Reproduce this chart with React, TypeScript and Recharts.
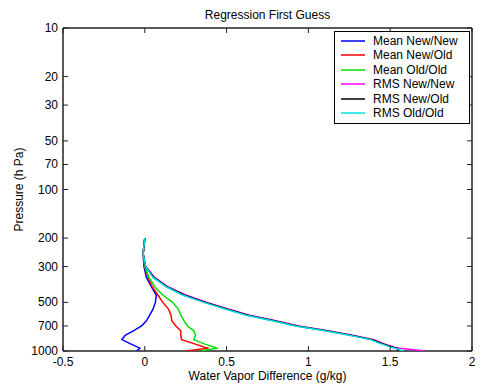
import React from 'react';
import { ScatterChart, Scatter, XAxis, YAxis, Legend } from 'recharts';

const FONT = '"Liberation Sans", Arial, Helvetica, sans-serif';

// Pressure levels (hPa) shared by every profile
const pressureLevels = [200, 250, 300, 350, 400, 450, 500, 550, 600, 650, 700, 750, 800, 850, 900, 950, 960, 1000];

// Water vapour differences (g/kg) read at each pressure level
const meanNewNew = [0, -0.01, -0.005, 0.01, 0.04, 0.07, 0.065, 0.05, 0.03, 0.01, -0.02, -0.07, -0.12, -0.14, -0.09, -0.04, -0.03, -0.05];
const meanNewOld = [0, -0.01, 0, 0.02, 0.045, 0.08, 0.11, 0.145, 0.16, 0.165, 0.19, 0.22, 0.22, 0.225, 0.3, 0.37, 0.39, 0.25];
const meanOldOld = [0, -0.01, 0, 0.025, 0.06, 0.11, 0.17, 0.205, 0.22, 0.24, 0.26, 0.3, 0.31, 0.3, 0.36, 0.43, 0.44, 0.34];
const rmsNewNew = [0, -0.01, 0.005, 0.06, 0.14, 0.25, 0.38, 0.51, 0.64, 0.8, 0.94, 1.12, 1.27, 1.4, 1.46, 1.53, 1.56, 1.71];
const rmsNewOld = [0, -0.01, 0.005, 0.055, 0.135, 0.24, 0.37, 0.5, 0.63, 0.79, 0.93, 1.11, 1.26, 1.39, 1.45, 1.52, 1.54, 1.55];
const rmsOldOld = [0, -0.01, 0.005, 0.05, 0.13, 0.23, 0.36, 0.49, 0.62, 0.78, 0.92, 1.1, 1.25, 1.38, 1.44, 1.51, 1.53, 1.58];

const seriesNames = ['Mean New/New', 'Mean New/Old', 'Mean Old/Old', 'RMS New/New', 'RMS New/Old', 'RMS Old/Old'];
const seriesColors = ['#0000ff', '#ff0000', '#00e000', '#ff00ff', '#000000', '#00e0e0'];
const seriesValues = [meanNewNew, meanNewOld, meanOldOld, rmsNewNew, rmsNewOld, rmsOldOld];

const xTicks = [-0.5, 0, 0.5, 1, 1.5, 2];
const yTicks = [10, 20, 30, 50, 70, 100, 200, 300, 500, 700, 1000];

const titleText = 'Regression First Guess';
const xLabelText = 'Water Vapor Difference (g/kg)';
const yLabelText = 'Pressure (h Pa)';

const toPoints = (vals: number[]) => vals.map((x, i) => ({ x, p: pressureLevels[i] }));

const AXIS_COLOR = '#222';
const TICK_LEN = 5;

const LeftTick = (props: any) => {
  const { x, y, payload } = props;
  return (
    <g>
      <text x={x} y={y} dy={4} textAnchor="end" fontSize={12} fontFamily={FONT} fill="#000">
        {payload.value}
      </text>
      <line x1={x + 5} x2={x + 5 + TICK_LEN} y1={y} y2={y} stroke={AXIS_COLOR} strokeWidth={1} />
    </g>
  );
};

const BottomTick = (props: any) => {
  const { x, y, payload } = props;
  return (
    <g>
      <text x={x} y={y} dy={10} textAnchor="middle" fontSize={12} fontFamily={FONT} fill="#000">
        {payload.value}
      </text>
      <line x1={x} x2={x} y1={y - 5} y2={y - 5 - TICK_LEN} stroke={AXIS_COLOR} strokeWidth={1} />
    </g>
  );
};

const RightTick = (props: any) => {
  const { x, y } = props;
  return <line x1={x - 5} x2={x - 5 - TICK_LEN} y1={y} y2={y} stroke={AXIS_COLOR} strokeWidth={1} />;
};

const TopTick = (props: any) => {
  const { x, y } = props;
  return <line x1={x} x2={x} y1={y + 5} y2={y + 5 + TICK_LEN} stroke={AXIS_COLOR} strokeWidth={1} />;
};

const renderLegend = () => (
  <div
    style={{
      position: 'relative',
      width: 136,
      height: 93,
      boxSizing: 'border-box',
      border: '1px solid #000',
      background: '#fff',
      fontFamily: FONT,
      fontSize: 12,
      color: '#000',
    }}
  >
    {seriesNames.map((name, i) => (
      <div
        key={name}
        style={{
          position: 'absolute',
          left: 0,
          top: 1.5 + i * 14.5,
          height: 14.5,
          display: 'flex',
          alignItems: 'center',
        }}
      >
        <svg width={38} height={14} style={{ display: 'block' }}>
          <line x1={6} x2={30} y1={7} y2={7} stroke={seriesColors[i]} strokeWidth={1.5} />
        </svg>
        <span style={{ lineHeight: '14.5px', whiteSpace: 'nowrap' }}>{name}</span>
      </div>
    ))}
  </div>
);

const NoShape = () => <g />;

export default function App() {
  return (
    <div style={{ position: 'absolute', left: 0, top: 0, width: 481, height: 385, background: '#fff' }}>
      <ScatterChart width={481} height={385} margin={{ top: 27, right: 8, bottom: 0, left: 0 }}>
        <XAxis
          xAxisId="x"
          type="number"
          dataKey="x"
          domain={[-0.5, 2]}
          ticks={xTicks}
          allowDataOverflow
          height={34}
          tickSize={5}
          tickMargin={0}
          tickLine={false}
          axisLine={{ stroke: AXIS_COLOR, strokeWidth: 1.5 }}
          tick={(p: any) => <BottomTick {...p} />}
          interval={0}
          label={{
            content: (lp: any) => {
              const vb = lp.viewBox || { x: 63, y: 351, width: 409, height: 34 };
              return (
                <text x={vb.x + vb.width / 2} y={vb.y + 29} textAnchor="middle" fontSize={12} fontFamily={FONT} fill="#000">
                  {xLabelText}
                </text>
              );
            },
          }}
        />
        <XAxis
          xAxisId="t"
          orientation="top"
          type="number"
          dataKey="x"
          domain={[-0.5, 2]}
          ticks={xTicks}
          allowDataOverflow
          height={1}
          tickSize={5}
          tickMargin={0}
          tickLine={false}
          axisLine={{ stroke: AXIS_COLOR, strokeWidth: 1.5 }}
          tick={(p: any) => <TopTick {...p} />}
          interval={0}
          label={{
            content: (lp: any) => {
              const vb = lp.viewBox || { x: 63, y: 27, width: 409, height: 1 };
              return (
                <text x={vb.x + vb.width / 2} y={vb.y + vb.height - 9} textAnchor="middle" fontSize={12} fontFamily={FONT} fill="#000">
                  {titleText}
                </text>
              );
            },
          }}
        />
        <YAxis
          yAxisId="p"
          type="number"
          dataKey="p"
          scale="log"
          domain={[10, 1000]}
          ticks={yTicks}
          reversed
          allowDataOverflow
          width={63}
          tickSize={5}
          tickMargin={0}
          tickLine={false}
          axisLine={{ stroke: AXIS_COLOR, strokeWidth: 1.5 }}
          tick={(p: any) => <LeftTick {...p} />}
          interval={0}
          label={{
            content: (lp: any) => {
              const vb = lp.viewBox || { x: 0, y: 28, width: 63, height: 323 };
              const cx = vb.x + 19;
              const cy = vb.y + vb.height / 2;
              return (
                <text
                  x={cx}
                  y={cy + 4}
                  textAnchor="middle"
                  fontSize={12}
                  fontFamily={FONT}
                  fill="#000"
                  transform={`rotate(-90, ${cx}, ${cy})`}
                >
                  {yLabelText}
                </text>
              );
            },
          }}
        />
        <YAxis
          yAxisId="r"
          orientation="right"
          type="number"
          dataKey="p"
          scale="log"
          domain={[10, 1000]}
          ticks={yTicks}
          reversed
          allowDataOverflow
          width={1}
          tickSize={5}
          tickMargin={0}
          tickLine={false}
          axisLine={{ stroke: AXIS_COLOR, strokeWidth: 1.5 }}
          tick={(p: any) => <RightTick {...p} />}
          interval={0}
        />
        <Legend
          layout="vertical"
          align="center"
          verticalAlign="middle"
          content={renderLegend}
          wrapperStyle={{ left: 334, top: 31, width: 136, height: 93 }}
        />
        {seriesValues.map((vals, i) => (
          <Scatter
            key={seriesNames[i]}
            name={seriesNames[i]}
            xAxisId={i < 3 ? 'x' : 't'}
            yAxisId={i < 3 ? 'p' : 'r'}
            data={toPoints(vals)}
            fill={seriesColors[i]}
            line={{ stroke: seriesColors[i], strokeWidth: 1.5 }}
            lineType="joint"
            shape={NoShape}
            isAnimationActive={false}
          />
        ))}
      </ScatterChart>
    </div>
  );
}
